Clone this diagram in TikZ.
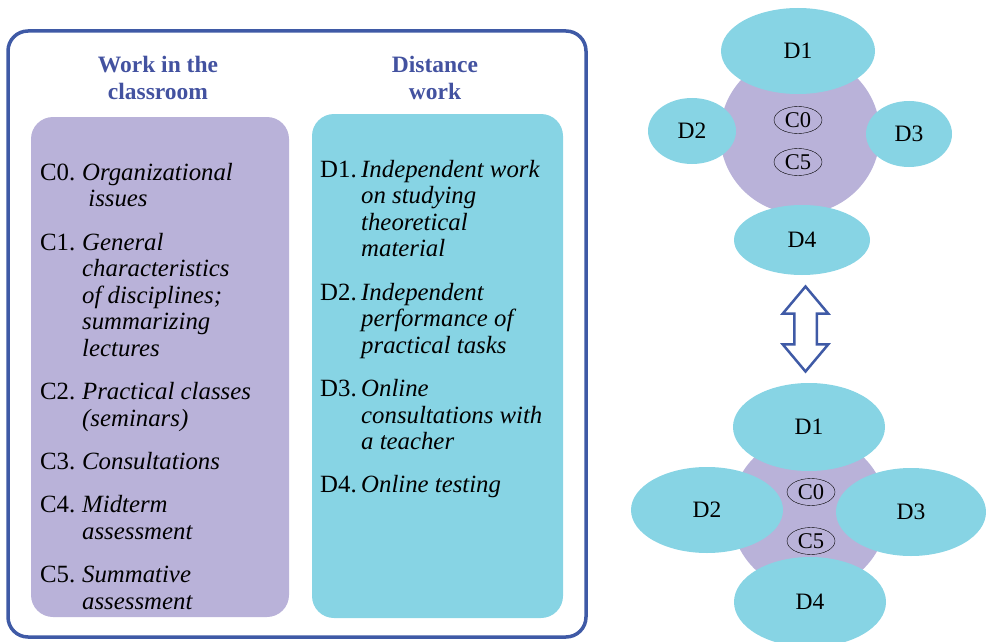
\documentclass[tikz,border=0pt]{standalone}
\usepackage{fontspec}
\setmainfont{Liberation Serif}
\usepackage{array}
\usepackage{xcolor}
\usetikzlibrary{shapes.geometric,shapes.arrows,positioning,calc}

\definecolor{lilac}{HTML}{B9B2D9}
\definecolor{aqua}{HTML}{87D4E4}
\definecolor{frameblue}{HTML}{3F5AA6}
\definecolor{headblue}{HTML}{4352A0}

\newcommand{\cwitem}[3]{\begin{tabular}{@{}p{#1}@{}>{\itshape}l@{}}#2 & #3\end{tabular}}

\begin{document}
\begin{tikzpicture}[
  x=1pt,y=1pt,
  node distance=16.5pt,
  frame/.style={rectangle,draw=frameblue,line width=3.5pt,rounded corners=20pt,minimum width=578pt,minimum height=606pt},
  panel/.style={rectangle,rounded corners=22pt,inner sep=0pt},
  head/.style={font=\fontsize{23.5}{27}\selectfont\bfseries,text=headblue,align=center},
  item/.style={anchor=north west,inner sep=0pt,font=\fontsize{24.8}{26.5}\selectfont},
  core/.style={circle,fill=lilac,inner sep=0pt},
  blob/.style={ellipse,fill=aqua,inner sep=0pt,font=\fontsize{23.5}{27}\selectfont},
  tag/.style={ellipse,draw,thin,inner sep=0pt,minimum width=48pt,minimum height=27pt,font=\fontsize{22.5}{24}\selectfont},
  swap/.style={double arrow,draw=frameblue,fill=white,line width=2.5pt,rotate=90,inner xsep=0pt,inner ysep=10pt,minimum height=85pt,double arrow head extend=11.5pt,double arrow tip angle=80}
]
\useasboundingbox (0,0) rectangle (986,-642);
\node[frame] (box) at (297,-334) {};
\node[head] (hcls) at (158,-78) {Work in the\\classroom};
\node[head] (hdist) at (435,-78) {Distance\\work};
\node[panel,fill=lilac,minimum width=258pt,minimum height=500pt] (lpan) at (160,-367) {};
\node[panel,fill=aqua,minimum width=251pt,minimum height=504pt] (rpan) at (437.5,-366) {};

\node[item] (c0) at (40,-161.5) {\cwitem{42pt}{C0.}{Organizational\\ & \ issues}};
\node[below=of c0.south west,item] (c1) {\cwitem{42pt}{C1.}{General\\ & characteristics\\ & of disciplines;\\ & summarizing\\ & lectures}};
\node[below=of c1.south west,item] (c2) {\cwitem{42pt}{C2.}{Practical classes\\ & (seminars)}};
\node[below=of c2.south west,item] (c3) {\cwitem{42pt}{C3.}{Consultations}};
\node[below=of c3.south west,item] (c4) {\cwitem{42pt}{C4.}{Midterm\\ & assessment}};
\node[below=of c4.south west,item] (c5) {\cwitem{42pt}{C5.}{Summative\\ & assessment}};

\node[item] (d1) at (320,-158.5) {\cwitem{41pt}{D1.}{Independent work\\ & on studying\\ & theoretical\\ & material}};
\node[below=of d1.south west,item] (d2) {\cwitem{41pt}{D2.}{Independent\\ & performance of\\ & practical tasks}};
\node[below=of d2.south west,item] (d3) {\cwitem{41pt}{D3.}{Online\\ & consultations with\\ & a teacher}};
\node[below=of d3.south west,item] (d4) {\cwitem{41pt}{D4.}{Online testing}};

\node[core,minimum size=160pt] (tcore) at (800,-134) {};
\node[blob,minimum width=154pt,minimum height=86pt] (t1) at (798,-51) {D1};
\node[blob,minimum width=88pt,minimum height=66pt] (t2) at (692,-131) {D2};
\node[blob,minimum width=86pt,minimum height=66pt] (t3) at (909,-134) {D3};
\node[blob,minimum width=136pt,minimum height=70pt] (t4) at (802,-240) {D4};
\node[tag] (tc0) at (798,-120) {C0};
\node[tag] (tc5) at (798,-162) {C5};

\node[core,minimum size=156pt] (bcore) at (809,-513) {};
\node[blob,minimum width=152pt,minimum height=88pt] (b1) at (809,-427) {D1};
\node[blob,minimum width=152pt,minimum height=86pt] (b2) at (707,-510) {D2};
\node[blob,minimum width=150pt,minimum height=88pt] (b3) at (911,-512) {D3};
\node[blob,minimum width=152pt,minimum height=90pt] (b4) at (810,-602) {D4};
\node[tag] (bc0) at (811,-492) {C0};
\node[tag] (bc5) at (811,-541) {C5};

\node[swap] (link) at ($(t4.south)!0.5!(b1.north)$) {};
\end{tikzpicture}
\end{document}
